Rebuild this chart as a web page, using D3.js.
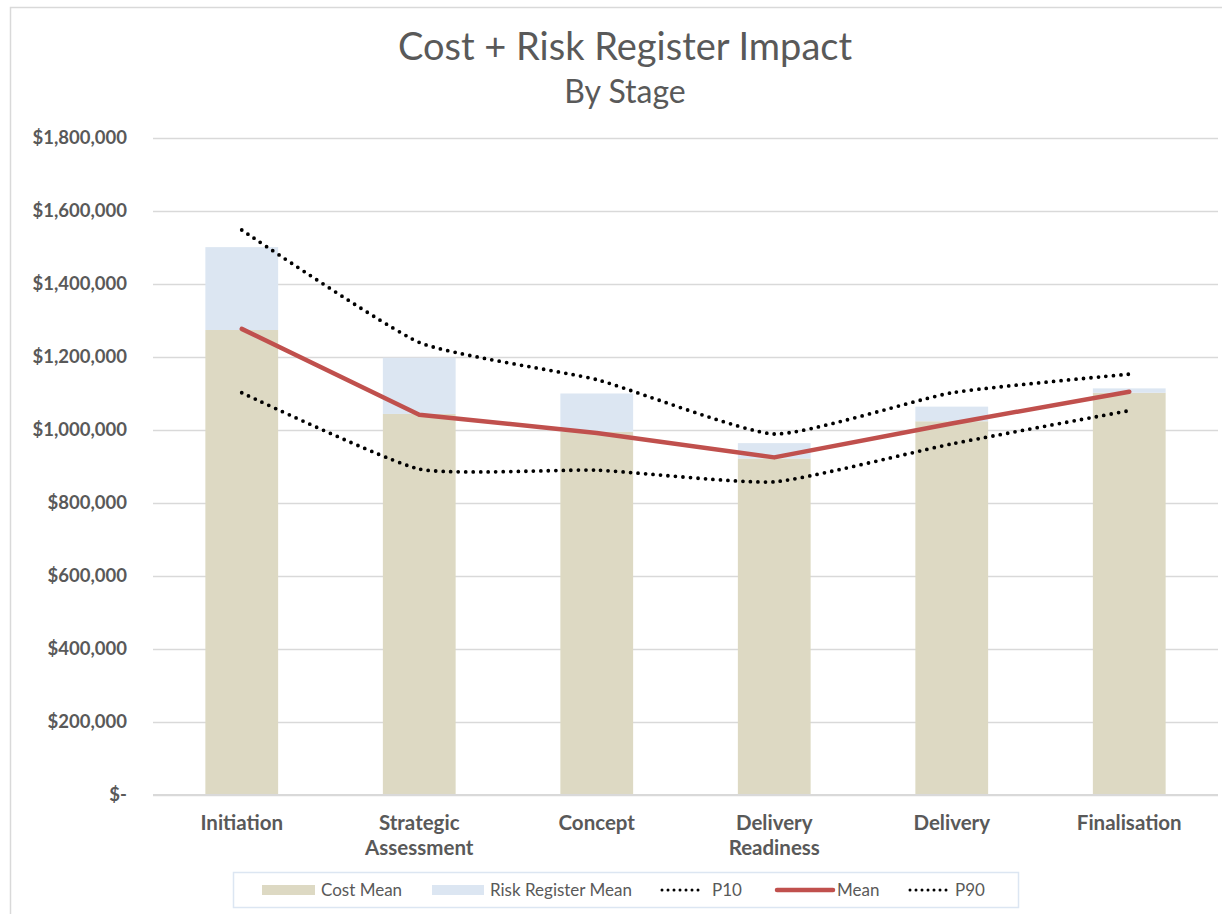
<html>
<head>
<meta charset="utf-8">
<script src="https://d3js.org/d3.v7.min.js"></script>
<style>
    body { margin: 0; background: #fff; }
    text { font-family: Lato, "Open Sans", sans-serif; fill: #595959; }
</style>
</head>
<body>
<svg id="chart"></svg>
<script>

    // data
    var stages = ["Initiation", "Strategic Assessment", "Concept", "Delivery Readiness", "Delivery", "Finalisation"];
    var costMean = [1274000, 1044000, 995000, 922000, 1024000, 1102000];
    var riskMean = [227000, 154000, 105000, 42000, 40000, 12000];
    var meanLine = [1277000, 1042000, 992000, 925000, 1018000, 1105000];
    var p10 = [1102000, 893000, 890000, 858000, 962000, 1053000];
    var p90 = [1548000, 1240000, 1138000, 989000, 1102000, 1153000];
    var yTicks = [0, 200000, 400000, 600000, 800000, 1000000, 1200000, 1400000, 1600000, 1800000];

(function() {
    var w = 1222, h = 914;
    var pLeft = 153, pRight = 1218, pTop = 138, pBottom = 795;

    var svg = d3.select("#chart")
        .attr("width", w)
        .attr("height", h);

    // outer chart border (top + left visible)
    svg.append("path")
        .attr("d", "M10.5," + h + "V7.5H" + w)
        .attr("fill", "none")
        .attr("stroke", "#d9d9d9")
        .attr("stroke-width", 1.5);

    var x = d3.scaleBand()
        .domain(stages)
        .range([pLeft, pRight])
        .paddingInner(0.59)
        .paddingOuter(0.295);

    var y = d3.scaleLinear()
        .domain([0, 1800000])
        .range([pBottom, pTop]);

    var cx = function(d, i) { return x(stages[i]) + x.bandwidth() / 2; };

    // titles
    svg.append("text")
        .attr("x", 625).attr("y", 60)
        .attr("text-anchor", "middle")
        .attr("font-size", 38)
        .text("Cost + Risk Register Impact");
    svg.append("text")
        .attr("x", 625).attr("y", 103)
        .attr("text-anchor", "middle")
        .attr("font-size", 32)
        .text("By Stage");

    // gridlines + y labels
    var fmt = d3.format(",");
    var yAxis = d3.axisLeft(y)
        .tickValues(yTicks)
        .tickSize(-(pRight - pLeft))
        .tickPadding(26)
        .tickFormat(function(d) { return d === 0 ? "$-" : "$" + fmt(d); });

    var ga = svg.append("g")
        .attr("transform", "translate(" + pLeft + ",0)")
        .call(yAxis);
    ga.select(".domain").remove();
    ga.selectAll(".tick line")
        .attr("stroke", "#d9d9d9")
        .attr("stroke-width", 1.5);
    ga.selectAll(".tick text")
        .attr("font-family", "Lato, sans-serif")
        .attr("font-weight", "bold")
        .attr("font-size", 18.5)
        .attr("fill", "#595959");

    // stacked bars
    svg.selectAll(".cost")
        .data(costMean)
        .enter()
        .append("rect")
        .attr("class", "cost")
        .attr("x", function(d, i) { return x(stages[i]); })
        .attr("width", x.bandwidth())
        .attr("y", function(d) { return y(d); })
        .attr("height", function(d) { return y(0) - y(d); })
        .style("fill", "#ddd9c3");

    svg.selectAll(".risk")
        .data(riskMean)
        .enter()
        .append("rect")
        .attr("class", "risk")
        .attr("x", function(d, i) { return x(stages[i]); })
        .attr("width", x.bandwidth())
        .attr("y", function(d, i) { return y(costMean[i] + d); })
        .attr("height", function(d, i) { return y(costMean[i]) - y(costMean[i] + d); })
        .style("fill", "#dce6f2");

    // base line
    svg.append("line")
        .attr("x1", pLeft).attr("x2", pRight)
        .attr("y1", y(0)).attr("y2", y(0))
        .attr("stroke", "#d9d9d9")
        .attr("stroke-width", 2);

    // lines
    var smooth = d3.line()
        .x(cx)
        .y(function(d) { return y(d); })
        .curve(d3.curveCardinal.tension(0.5));
    var straight = d3.line()
        .x(cx)
        .y(function(d) { return y(d); });

    [p10, p90].forEach(function(s) {
        svg.append("path")
            .datum(s)
            .attr("d", smooth)
            .attr("fill", "none")
            .attr("stroke", "#000")
            .attr("stroke-width", 3.8)
            .attr("stroke-linecap", "round")
            .attr("stroke-dasharray", "0,7.5");
    });

    svg.append("path")
        .datum(meanLine)
        .attr("d", straight)
        .attr("fill", "none")
        .attr("stroke", "#c0504d")
        .attr("stroke-width", 4.5)
        .attr("stroke-linejoin", "round")
        .attr("stroke-linecap", "round");

    // x labels
    var xl = svg.selectAll(".xlab")
        .data(stages)
        .enter()
        .append("text")
        .attr("class", "xlab")
        .attr("text-anchor", "middle")
        .attr("font-weight", "bold")
        .attr("font-size", 20.5)
        .attr("x", function(d) { return x(d) + x.bandwidth() / 2; })
        .attr("y", 830);
    xl.selectAll("tspan")
        .data(function(d) { return d.split(" "); })
        .enter()
        .append("tspan")
        .attr("x", function() { return d3.select(this.parentNode).attr("x"); })
        .attr("dy", function(d, i) { return i ? 25 : 0; })
        .text(function(d) { return d; });

    // legend
    svg.append("rect")
        .attr("x", 233.5).attr("y", 872.5)
        .attr("width", 785).attr("height", 35)
        .attr("fill", "#fff")
        .attr("stroke", "#dce6f2")
        .attr("stroke-width", 1.5);

    var legend = [
        {name: "Cost Mean", type: "bar", color: "#ddd9c3", x0: 262, x1: 315, tx: 321},
        {name: "Risk Register Mean", type: "bar", color: "#dce6f2", x0: 432, x1: 484, tx: 490},
        {name: "P10", type: "dot", color: "#000", x0: 662, x1: 704, tx: 712},
        {name: "Mean", type: "line", color: "#c0504d", x0: 777, x1: 833, tx: 837},
        {name: "P90", type: "dot", color: "#000", x0: 910, x1: 950, tx: 955}
    ];
    var ly = 890;
    legend.forEach(function(l) {
        if (l.type === "bar") {
            svg.append("rect")
                .attr("x", l.x0).attr("y", ly - 5)
                .attr("width", l.x1 - l.x0).attr("height", 10)
                .attr("fill", l.color);
        } else {
            svg.append("line")
                .attr("x1", l.x0).attr("x2", l.x1)
                .attr("y1", ly).attr("y2", ly)
                .attr("stroke", l.color)
                .attr("stroke-width", l.type === "dot" ? 3 : 4.5)
                .attr("stroke-linecap", "round")
                .attr("stroke-dasharray", l.type === "dot" ? "0,6" : null);
        }
        svg.append("text")
            .attr("x", l.tx).attr("y", ly + 6)
            .attr("font-size", 17)
            .text(l.name);
    });
})();

</script>
</body>
</html>
